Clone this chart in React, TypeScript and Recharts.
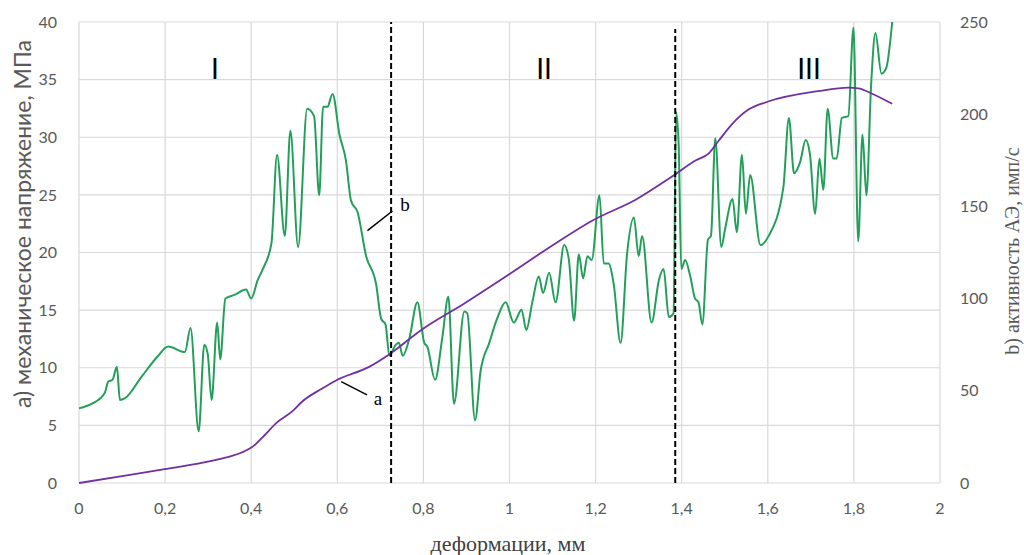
import React from "react";
import {
  LineChart, Line, XAxis, YAxis, CartesianGrid, ReferenceLine,
} from "recharts";

// деформация, мм -> напряжение, МПа (кривая a)
const STRESS_X = [0, 0.1, 0.199, 0.288, 0.34, 0.378, 0.405, 0.43, 0.458, 0.498, 0.518, 0.565, 0.597, 0.675, 0.722, 0.796, 0.896, 0.995, 1.095, 1.194, 1.294, 1.374, 1.433, 1.463, 1.486, 1.516, 1.555, 1.601, 1.717, 1.787, 1.81, 1.841, 1.889];
const STRESS_Y = [0, 0.6, 1.2, 1.76, 2.2, 2.65, 3.2, 4.1, 5.2, 6.3, 7.05, 8.2, 8.9, 10.1, 11.2, 13.3, 15.6, 18.0, 20.5, 22.8, 24.6, 26.5, 28.0, 28.6, 29.7, 31.1, 32.4, 33.1, 34.0, 34.3, 34.25, 33.8, 32.9];

// деформация, мм -> активность АЭ, имп/с (кривая b)
const AE_X = [
  0, 0.03, 0.06, 0.068, 0.078, 0.088, 0.095, 0.107, 0.145, 0.184, 0.207, 0.246, 0.259, 0.278, 0.291, 0.299, 0.308, 0.321, 0.328, 0.34,
  0.361, 0.388, 0.4, 0.415, 0.427, 0.447, 0.46, 0.478, 0.491, 0.509, 0.53, 0.546, 0.558, 0.567, 0.577, 0.589, 0.605, 0.62, 0.632, 0.647,
  0.667, 0.69, 0.702, 0.712, 0.721, 0.733, 0.743, 0.752, 0.767, 0.786, 0.802, 0.809, 0.827, 0.844, 0.858, 0.871, 0.895, 0.902, 0.92, 0.933,
  0.953, 0.971, 0.991, 1.01, 1.028, 1.039, 1.053, 1.068, 1.078, 1.092, 1.107, 1.127, 1.138, 1.15, 1.161, 1.171, 1.181, 1.191, 1.209, 1.219,
  1.23, 1.242, 1.258, 1.273, 1.289, 1.3, 1.308, 1.33, 1.347, 1.358, 1.37, 1.381, 1.387, 1.393, 1.399, 1.408, 1.42, 1.431, 1.439, 1.448,
  1.461, 1.468, 1.478, 1.492, 1.501, 1.518, 1.528, 1.54, 1.549, 1.559, 1.583, 1.602, 1.636, 1.649, 1.661, 1.675, 1.688, 1.698, 1.71, 1.72,
  1.729, 1.739, 1.752, 1.76, 1.772, 1.787, 1.799, 1.81, 1.82, 1.829, 1.84, 1.85, 1.864, 1.875, 1.889,
];
const AE_Y = [
  40.5, 43, 49, 55, 56, 63, 45, 46, 57.5, 69, 74, 71, 84, 28, 75, 70, 45, 87, 67, 100,
  102, 105, 100, 110, 116, 130, 178, 134, 191, 128, 203, 199, 156, 204, 204, 211, 189, 175, 153, 147,
  123, 108, 89, 86, 69, 74, 76, 69, 78, 98, 76, 74, 56, 79, 101, 43, 93, 92, 34, 61,
  76, 89, 98, 87, 94, 83, 98, 112, 103, 114, 98, 129, 121, 88, 124, 111, 123, 121, 156, 119,
  119, 108, 76, 124, 144, 123, 134, 87, 110, 116, 90, 92, 201, 183, 116, 121, 112, 100, 98, 86,
  132, 134, 187, 128, 138, 154, 136, 178, 146, 167, 129, 134, 160, 198, 168, 174, 186, 178, 146, 176,
  159, 203, 176, 176, 198, 199, 247, 131, 189, 156, 216, 244, 222, 225, 250,
];

const X_TICKS = [0, 0.2, 0.4, 0.6, 0.8, 1, 1.2, 1.4, 1.6, 1.8, 2];
const LEFT_TICKS = [0, 5, 10, 15, 20, 25, 30, 35, 40];
const RIGHT_TICKS = [0, 50, 100, 150, 200, 250];

const STAGE_BORDERS = [0.725, 1.385];

const stressData = STRESS_X.map((x, i) => ({ x, stress: STRESS_Y[i] }));
const aeData = AE_X.map((x, i) => ({ x, ae: AE_Y[i] }));

const SANS = "Lato, 'Open Sans', sans-serif";
const SERIF = "'Liberation Serif', 'DejaVu Serif', serif";
const tick = { fontSize: 16, fill: "#595959", fontFamily: SANS };

const abs = (left: number, top: number, extra: React.CSSProperties = {}): React.CSSProperties => ({
  position: "absolute",
  left,
  top,
  transform: "translate(-50%, -50%)",
  whiteSpace: "nowrap",
  lineHeight: 1,
  ...extra,
});

export default function App() {
  return (
    <div style={{ position: "absolute", left: 0, top: 0, width: 1024, height: 555, background: "#fff", overflow: "hidden" }}>
      <LineChart width={1024} height={555} margin={{ top: 22, right: 0, bottom: 0, left: 0 }}>
        <CartesianGrid yAxisId="left" stroke="#d9d9d9" strokeWidth={1.2} />
        <XAxis
          dataKey="x"
          type="number"
          domain={[0, 2]}
          ticks={X_TICKS}
          tickFormatter={(v: number) => String(v).replace(".", ",")}
          height={72}
          axisLine={false}
          tickLine={false}
          tickSize={0}
          tickMargin={20}
          tick={tick}
          allowDataOverflow
        />
        <YAxis
          yAxisId="left"
          domain={[0, 40]}
          ticks={LEFT_TICKS}
          width={79}
          axisLine={false}
          tickLine={false}
          tickSize={0}
          tickMargin={22}
          tick={tick}
        />
        <YAxis
          yAxisId="right"
          orientation="right"
          domain={[0, 250]}
          ticks={RIGHT_TICKS}
          width={84}
          axisLine={false}
          tickLine={false}
          tickSize={0}
          tickMargin={20}
          tick={tick}
        />
        <Line
          yAxisId="right"
          data={aeData}
          dataKey="ae"
          type="monotone"
          stroke="#22a05a"
          strokeWidth={2}
          dot={false}
          isAnimationActive={false}
        />
        <Line
          yAxisId="left"
          data={stressData}
          dataKey="stress"
          type="monotone"
          stroke="#7030a0"
          strokeWidth={1.8}
          dot={false}
          isAnimationActive={false}
        />
        <ReferenceLine
          yAxisId="left"
          segment={[{ x: STAGE_BORDERS[0], y: 0 }, { x: STAGE_BORDERS[0], y: 40 }]}
          stroke="#000"
          strokeWidth={2}
          strokeDasharray="6 3"
        />
        <ReferenceLine
          yAxisId="left"
          segment={[{ x: STAGE_BORDERS[1], y: 0 }, { x: STAGE_BORDERS[1], y: 39.4 }]}
          stroke="#000"
          strokeWidth={2}
          strokeDasharray="6 3"
        />
        <ReferenceLine
          yAxisId="left"
          segment={[{ x: 0.609, y: 8.79 }, { x: 0.669, y: 7.64 }]}
          stroke="#000"
          strokeWidth={1.5}
        />
        <ReferenceLine
          yAxisId="left"
          segment={[{ x: 0.67, y: 21.9 }, { x: 0.728, y: 23.6 }]}
          stroke="#000"
          strokeWidth={1.5}
        />
      </LineChart>

      <div style={abs(215, 68, { fontFamily: SANS, fontSize: 28, color: "#000" })}>I</div>
      <div style={abs(544, 68, { fontFamily: SANS, fontSize: 28, color: "#000" })}>II</div>
      <div style={abs(809, 68, { fontFamily: SANS, fontSize: 28, color: "#000" })}>III</div>

      <div style={abs(378, 398, { fontFamily: SERIF, fontSize: 19, color: "#000" })}>a</div>
      <div style={abs(405, 204, { fontFamily: SERIF, fontSize: 19, color: "#000" })}>b</div>

      <div style={abs(22, 224, { fontFamily: SANS, fontSize: 23, color: "#595959", transform: "translate(-50%, -50%) rotate(-90deg)" })}>
        а) механическое напряжение, МПа
      </div>
      <div style={abs(1012, 251, { fontFamily: SERIF, fontSize: 20, color: "#595959", transform: "translate(-50%, -50%) rotate(-90deg)" })}>
        b) активность  АЭ, имп/с
      </div>
      <div style={abs(508, 544, { fontFamily: SERIF, fontSize: 22, color: "#404040" })}>деформации, мм</div>
    </div>
  );
}
